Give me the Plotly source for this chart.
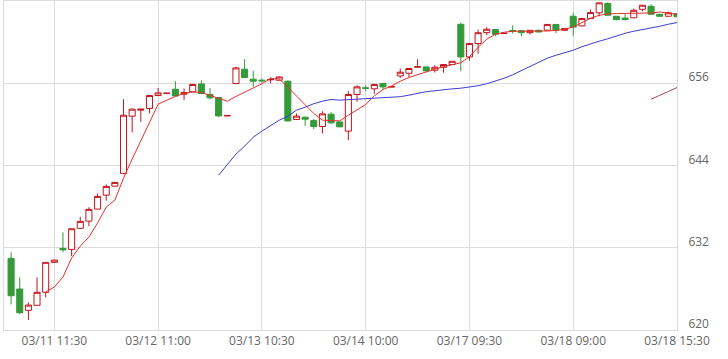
import plotly.graph_objects as go

# ---- data ----
open_ = [630.45, 625.98, 622.87, 623.60, 625.50, 629.87, 631.90, 631.76, 634.83, 635.89,
         637.64, 639.68, 640.99, 642.84, 651.20, 652.07, 652.32, 654.21, 654.52, 655.13,
         654.40, 654.74, 655.90, 654.37, 653.92, 651.22, 655.96, 658.05, 656.59, 656.45,
         656.50, 656.44, 656.30, 650.71, 651.05, 650.57, 649.69, 651.49, 650.36, 649.01,
         654.36, 655.35, 655.19, 655.96, 655.45, 657.07, 657.46, 658.35, 658.38, 657.90,
         658.34, 658.73, 664.60, 659.84, 661.79, 663.38, 663.83, 663.25, 663.70, 663.67,
         663.38, 663.73, 663.73, 664.58, 663.72, 665.77, 664.37, 665.44, 666.28, 667.63,
         665.77, 665.52, 665.55, 666.79, 667.23, 666.06, 665.77, 666.18]
high_ = [631.33, 627.68, 624.04, 627.68, 629.90, 630.25, 634.24, 634.80, 636.52, 637.90,
         639.93, 641.25, 641.60, 653.67, 652.30, 652.25, 654.25, 655.31, 654.60, 656.30,
         655.23, 655.90, 656.44, 655.31, 654.00, 651.30, 658.40, 659.50, 657.80, 656.70,
         656.88, 657.00, 656.40, 651.59, 651.10, 650.76, 651.92, 651.82, 650.40, 654.84,
         655.71, 655.71, 655.90, 656.00, 655.50, 658.15, 658.20, 659.50, 658.40, 658.63,
         658.80, 659.20, 664.84, 661.80, 663.82, 664.17, 663.90, 663.30, 664.46, 663.70,
         663.75, 663.80, 664.60, 664.60, 664.05, 666.28, 665.50, 666.76, 667.80, 667.80,
         665.80, 666.18, 666.90, 667.40, 667.52, 666.10, 666.45, 666.20]
low_ = [623.75, 622.33, 621.46, 623.50, 624.77, 629.80, 631.33, 630.79, 634.80, 635.16,
        637.60, 638.86, 640.95, 642.80, 648.82, 650.36, 651.59, 654.20, 654.50, 654.10,
        653.53, 654.70, 654.40, 653.63, 651.10, 651.22, 655.90, 656.80, 655.47, 656.10,
        656.00, 656.40, 650.40, 650.70, 649.78, 649.30, 648.67, 650.10, 649.60, 647.70,
        653.28, 654.84, 654.45, 655.09, 655.45, 656.79, 656.92, 658.30, 657.70, 657.55,
        657.55, 658.70, 657.76, 659.31, 660.32, 663.00, 662.86, 663.20, 663.25, 662.86,
        663.10, 663.40, 663.60, 663.30, 663.65, 662.86, 664.30, 665.40, 665.77, 665.80,
        665.20, 665.20, 665.50, 666.50, 666.00, 665.70, 665.75, 665.60]
close_ = [625.00, 622.52, 623.64, 625.50, 629.87, 630.20, 631.70, 634.77, 635.85, 637.60,
          639.49, 640.95, 641.53, 651.34, 652.22, 652.22, 654.21, 654.59, 654.55, 654.15,
          654.64, 655.82, 654.50, 653.87, 651.24, 651.30, 658.24, 656.84, 656.30, 656.35,
          656.55, 656.92, 650.51, 651.20, 650.76, 649.69, 651.53, 650.22, 649.64, 654.36,
          655.47, 655.25, 655.82, 655.47, 655.50, 657.61, 658.15, 658.40, 657.80, 658.34,
          658.73, 659.20, 659.84, 661.79, 663.37, 663.88, 663.15, 663.30, 663.55, 663.38,
          663.72, 663.48, 664.58, 663.73, 664.00, 664.20, 665.44, 666.31, 667.73, 665.92,
          665.28, 665.28, 666.65, 667.38, 666.06, 665.77, 666.28, 665.70]

# short moving average (red), starts at bar 4
ma_short = [None] * 4 + [
    625.54, 626.27, 627.73, 630.50, 632.24, 633.56, 635.60, 637.93, 638.95, 642.16,
    644.93, 647.55, 650.32, 652.94, 653.53, 654.08, 654.50, 654.74, 654.65, 654.21,
    653.72, 653.38, 654.07, 654.69, 655.28, 655.93, 656.69, 656.63, 655.42, 654.11,
    652.80, 651.59, 650.61, 650.61, 650.51, 651.34, 652.07, 652.90, 654.15, 655.09,
    655.61, 656.30, 656.84, 657.27, 657.71, 658.05, 658.41, 658.70, 658.99, 659.87,
    661.25, 662.42, 663.15, 663.44, 663.59, 663.59, 663.59, 663.59, 663.63, 663.70,
    663.88, 664.21, 664.82, 665.48, 665.92, 666.11, 666.17, 666.17, 666.17, 666.17,
    666.25, 666.40, 666.28, 666.06]
# long moving average (blue), starts at bar 24
ma_long = [None] * 24 + [
    642.59, 644.20, 645.66, 646.82, 648.13, 649.01, 649.81, 650.61, 651.19, 652.07,
    652.51, 653.02, 653.38, 653.63, 653.53, 653.60, 653.67, 653.75, 653.82, 653.89,
    653.92, 654.04, 654.26, 654.55, 654.77, 654.91, 655.09, 655.18, 655.28, 655.42,
    655.64, 655.93, 656.30, 656.73, 657.24, 657.83, 658.41, 659.07, 659.65, 660.09,
    660.45, 660.82, 661.33, 661.76, 662.13, 662.49, 662.93, 663.29, 663.59, 663.80,
    664.10, 664.31, 664.61, 664.85]
# third average (brown), only the last bars
ma_third = [None] * 74 + [653.67, 654.20, 654.80, 655.38]

bars = list(range(len(open_)))
tick_pos = [5, 17, 29, 41, 53, 65, 77]
tick_text = ["03/11 11:30", "03/12 11:00", "03/13 10:30", "03/14 10:00",
             "03/17 09:30", "03/18 09:00", "03/18 15:30"]
y_ticks = [620, 632, 644, 656]

RED = "#c4141c"
GREEN = "#349a3a"
GRID = "#dcdcdc"

fig = go.Figure()
fig.add_trace(go.Candlestick(
    x=bars, open=open_, high=high_, low=low_, close=close_,
    increasing=dict(line=dict(color=RED, width=1), fillcolor="#ffffff"),
    decreasing=dict(line=dict(color=GREEN, width=1), fillcolor=GREEN),
    whiskerwidth=0, showlegend=False, hoverinfo="skip"))
fig.add_trace(go.Scatter(x=bars, y=ma_short, mode="lines",
                         line=dict(color="#e8302c", width=1), showlegend=False, hoverinfo="skip"))
fig.add_trace(go.Scatter(x=bars, y=ma_long, mode="lines",
                         line=dict(color="#3c3cd4", width=1), showlegend=False, hoverinfo="skip"))
fig.add_trace(go.Scatter(x=bars, y=ma_third, mode="lines",
                         line=dict(color="#a8454f", width=1), showlegend=False, hoverinfo="skip"))

fig.update_layout(
    width=728, height=359,
    margin=dict(l=4, r=51, t=1, b=29),
    paper_bgcolor="white", plot_bgcolor="white",
    font=dict(family="Open Sans, Arial, sans-serif", size=12, color="#666666"),
    boxgap=0.3, boxgroupgap=0,
    hovermode=False,
    xaxis=dict(range=[-0.82, 77], tickmode="array", tickvals=tick_pos, ticktext=tick_text,
               showgrid=True, gridcolor=GRID, gridwidth=1, zeroline=False,
               showline=True, linecolor=GRID, mirror=True,
               rangeslider=dict(visible=False), ticks="", fixedrange=True,
               tickfont=dict(size=12, color="#666666")),
    yaxis=dict(range=[620, 668], side="right", tickmode="array", tickvals=y_ticks,
               showgrid=True, gridcolor=GRID, gridwidth=1, zeroline=False,
               showline=True, linecolor=GRID, mirror=True, ticks="", fixedrange=True,
               ticklabelshift=-6, ticklabelstandoff=8,
               tickfont=dict(size=12, color="#666666")),
)

fig.write_html("out.html", config={"displayModeBar": False},
               post_script="document.body.style.margin='0';")
